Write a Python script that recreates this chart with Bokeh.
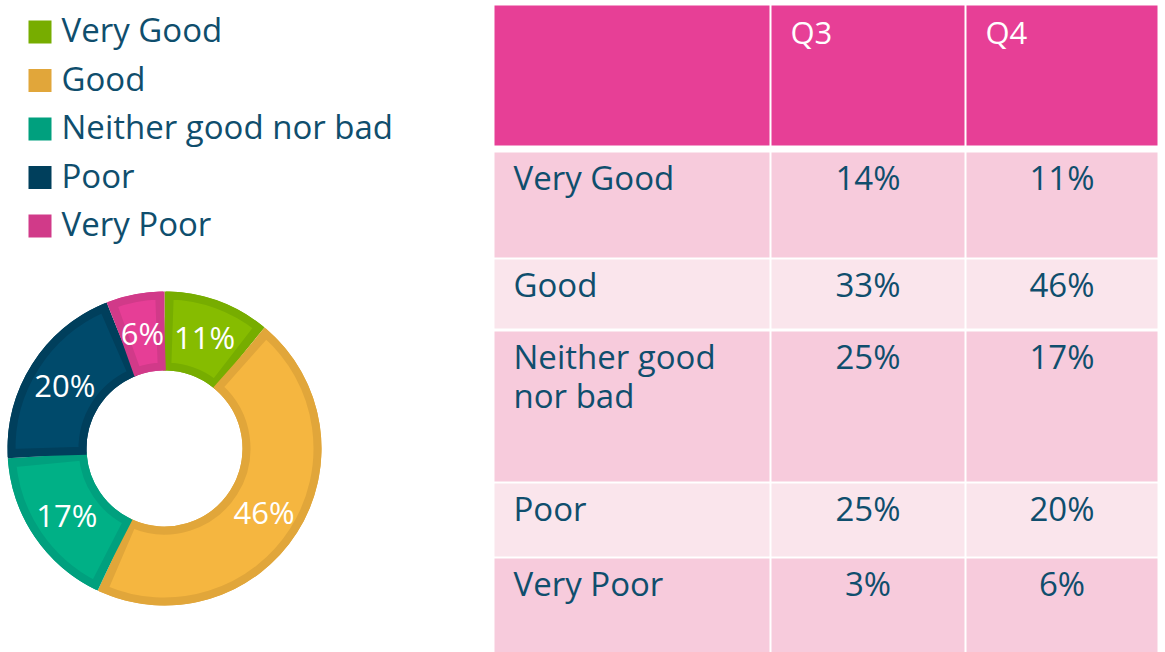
import numpy as np
from bokeh.plotting import figure
from bokeh.embed import file_html
from bokeh.resources import INLINE
from bokeh.core.properties import value

# ---------------- data ----------------
categories = ["Very Good", "Good", "Neither good nor bad", "Poor", "Very Poor"]
row_label_lines = [["Very Good"], ["Good"], ["Neither good", "nor bad"], ["Poor"], ["Very Poor"]]
quarters = ["Q3", "Q4"]
q3_values = [14, 33, 25, 25, 3]
q4_values = [11, 46, 17, 20, 6]
fill_colors = ["#86BC00", "#F5B640", "#00B086", "#004A6B", "#E63E96"]
edge_colors = ["#77AD00", "#E1A63A", "#00A07E", "#003F5C", "#D13A89"]

# ---------------- layout / style ----------------
W, H = 1165, 652
FONT = "Open Sans"
TEXT = "#0F4E6D"
HEADER_BG = "#E73F96"
ROW_BG = ["#F7CBDC", "#FAE5EC"]
FS_BODY = 33
FS_HEAD = 31
FS_DONUT = 31


def Y(px):
    return H - px


def mid_from_baseline(baseline_px, fs):
    # place text (middle baseline) so that its cap centre sits on the cap centre
    return Y(baseline_px - 0.357 * fs)


p = figure(width=W, height=H, x_range=(0, W), y_range=(0, H), min_border=0,
           toolbar_location=None, output_backend="svg",
           x_axis_location=None, y_axis_location=None)
p.grid.visible = False
p.outline_line_color = None
p.background_fill_color = "white"
p.border_fill_color = "white"

# ---------------- legend ----------------
leg_y0, leg_step = 20, 48.5
for i, cat in enumerate(categories):
    top = leg_y0 + leg_step * i
    p.quad(left=28, right=51, top=Y(top), bottom=Y(top + 23),
           fill_color=edge_colors[i], line_color=None)
    p.text(x=[61], y=[mid_from_baseline(top + 21, FS_BODY)], text=[cat],
           text_font=value(FONT), text_font_size=f"{FS_BODY}px", text_color=TEXT,
           text_baseline="middle", text_align="left")

# ---------------- donut ----------------
cx, cy = 164, Y(448)
r_in, r_out, border = 78, 157, 8
vals = np.array(q4_values, dtype=float)
frac = vals / vals.sum()
cum = np.concatenate([[0.0], np.cumsum(frac)])
a_cw_start = np.pi / 2 - 2 * np.pi * cum[:-1]
a_cw_end = np.pi / 2 - 2 * np.pi * cum[1:]
# dark base ring (exact slice angles)
p.annular_wedge(x=cx, y=cy, inner_radius=r_in, outer_radius=r_out,
                start_angle=list(a_cw_end), end_angle=list(a_cw_start),
                direction="anticlock", fill_color=edge_colors, line_color=None)
# lighter inner fill with its own darker rim
r_mid = (r_in + r_out) / 2
d = (border / 2) / r_mid
p.annular_wedge(x=cx, y=cy,
                inner_radius=r_in + border / 2, outer_radius=r_out - border / 2,
                start_angle=list(a_cw_end + d), end_angle=list(a_cw_start - d),
                direction="anticlock",
                fill_color=fill_colors, line_color=edge_colors,
                line_width=border, line_join="miter")

mid = (cum[:-1] + cum[1:]) / 2
ang = np.pi / 2 - 2 * np.pi * mid
r_lab = 118
p.text(x=list(cx + r_lab * np.cos(ang)), y=list(cy + r_lab * np.sin(ang)),
       text=[f"{v}%" for v in q4_values], text_font=value(FONT),
       text_font_size=f"{FS_DONUT}px", text_color="white", text_align="center",
       text_baseline="middle")

# ---------------- table ----------------
col_edges = [(494, 769), (771, 964), (966, 1157)]
header_edges = (5, 145)
row_edges = [(152, 257), (259, 328), (331, 481), (483, 556), (558, 652)]

for (l, r) in col_edges:
    p.quad(left=l, right=r, top=Y(header_edges[0]), bottom=Y(header_edges[1]),
           fill_color=HEADER_BG, line_color=None)
for j, q in enumerate(quarters):
    l = col_edges[j + 1][0]
    p.text(x=[l + 19], y=[mid_from_baseline(header_edges[0] + 38, FS_HEAD)], text=[q],
           text_font=value(FONT), text_font_size=f"{FS_HEAD}px", text_color="white",
           text_baseline="middle", text_align="left")

for i, (t, b) in enumerate(row_edges):
    for (l, r) in col_edges:
        p.quad(left=l, right=r, top=Y(t), bottom=Y(b),
               fill_color=ROW_BG[i % 2], line_color=None)
    for k, line in enumerate(row_label_lines[i]):
        p.text(x=[col_edges[0][0] + 19], y=[mid_from_baseline(t + 37 + 39 * k, FS_BODY)],
               text=[line], text_font=value(FONT), text_font_size=f"{FS_BODY}px",
               text_color=TEXT, text_baseline="middle", text_align="left")
    for j, vals_q in enumerate([q3_values, q4_values]):
        l, r = col_edges[j + 1]
        p.text(x=[(l + r) / 2], y=[mid_from_baseline(t + 37, FS_BODY)],
               text=[f"{vals_q[i]}%"], text_font=value(FONT),
               text_font_size=f"{FS_BODY}px", text_color=TEXT,
               text_baseline="middle", text_align="center")

open("out.html", "w").write(file_html(p, INLINE))
